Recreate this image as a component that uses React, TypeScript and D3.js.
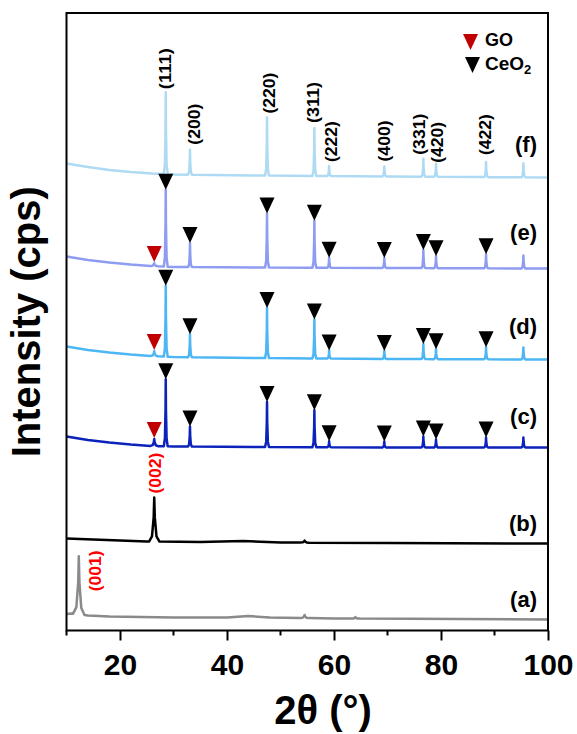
import React, { useRef, useEffect } from "react";
import * as d3 from "d3";

const WIDTH = 577;
const HEIGHT = 734;
const FONT = "'Liberation Sans', Arial, Helvetica, sans-serif";

// CeO2 reflections (2θ) and their Miller indices
const ceo2Peaks = [28.55, 33.08, 47.48, 56.33, 59.09, 69.4, 76.7, 79.07, 88.42, 95.4];
const ceo2Hkl = ["(111)", "(200)", "(220)", "(311)", "(222)", "(400)", "(331)", "(420)", "(422)"];
const goPeak002 = 26.4;
const goPeak001 = 12.3;

const sampleLabels = ["(a)", "(b)", "(c)", "(d)", "(e)", "(f)"];
const sampleColors = ["#8a8a8a", "#000000", "#0b22bb", "#4db6f4", "#8e9cf2", "#aedbf3"];
// vertical level of the (a)..(f) tags, same units as intensity
const sampleLabelLevel = [24, 100, 207, 297, 391, 479];

// background knots [2θ, intensity (offset, a.u.)]
const bgA = [[10, 16.5], [11, 17], [14, 15], [18, 14], [30, 13], [40, 13], [44, 14.5], [48, 13], [60, 12], [100, 11]];
const bgB = [[10, 92], [15, 91], [20, 90], [25, 89], [35, 88.5], [43, 89.5], [50, 88], [70, 87.5], [100, 87]];
const bgC = [[10, 194], [14, 190.5], [18, 188], [22, 186], [26, 184.5], [30, 184], [45, 183.5], [70, 183], [100, 183]];
const bgD = [[10, 284], [14, 280.5], [18, 278], [22, 276], [26, 274.5], [30, 273.5], [45, 272.5], [70, 271.5], [100, 271]];
const bgE = [[10, 374], [14, 370.5], [18, 368], [22, 366], [26, 364.5], [30, 363.5], [45, 363], [70, 362.5], [100, 362]];
const bgF = [[10, 467], [14, 463.5], [18, 460.5], [22, 458.5], [26, 457], [30, 456], [45, 455], [70, 454], [100, 453]];

// CeO2 peak heights above background, per sample (c)..(f)
const ceo2C = [67, 20, 45, 37, 6, 6, 11, 8, 10, 10];
const ceo2D = [71, 23, 50, 39, 8, 8, 15, 10, 12, 12];
const ceo2E = [77, 24, 54, 47, 10, 10, 18, 12, 14, 13];
const ceo2F = [82, 25, 58, 48, 10, 10, 18, 13, 15, 14];

// GO (002) height per sample (a)..(f); (001) only in (a)
const go002 = [0, 44, 7, 5, 3, 0];
const go001A = 58;

// small extra reflections [2θ, height]
const minorA = [[54.5, 3], [64, 1.5]];
const minorB = [[54.5, 2]];

// label placement tweaks for hkl labels [dx px, gap px]
const hklNudge = [[0, 3], [4, 5], [2, 4], [-1, 5], [2, 4], [0, 5], [-4, 4], [1, 1], [-1, 7]];

const PROFILE_OFF = [-2.8, -1.2, -0.3, 0, 0.3, 1.2, 2.8];
const PROFILE_FRAC = [0, 0.12, 0.55, 1, 0.55, 0.12, 0];

type Peak = { pos: number; h: number; w: number };

function buildTrace(bg: number[][], peaks: Peak[]) {
  const bgScale = d3.scaleLinear().domain(bg.map((d) => d[0])).range(bg.map((d) => d[1]));
  const live = peaks.filter((p) => p.h > 0);
  const pts: [number, number][] = bg
    .filter(([x]) => !live.some((p) => Math.abs(x - p.pos) < 2.8 * p.w))
    .map(([x, v]) => [x, v]);
  live.forEach((p) => {
    PROFILE_OFF.forEach((o, i) => {
      const x = p.pos + o * p.w;
      pts.push([x, bgScale(x) + PROFILE_FRAC[i] * p.h]);
    });
  });
  pts.sort((a, b) => a[0] - b[0]);
  return { pts, bgScale };
}

const App = () => {
  const svgRef = useRef<SVGSVGElement>(null);

  useEffect(() => {
    const svg = d3.select(svgRef.current);
    svg.selectAll("*").remove();

    const left = 66.5, right = 548, top = 13, bottom = 630.5;
    const x = d3.scaleLinear().domain([10, 100]).range([left, right]);
    const y = d3.scaleLinear().domain([0, bottom - top]).range([bottom, top]);

    const ceo2Sets = [null, null, ceo2C, ceo2D, ceo2E, ceo2F];
    const bgs = [bgA, bgB, bgC, bgD, bgE, bgF];

    const traces = bgs.map((bg, i) => {
      const peaks: Peak[] = [];
      if (i === 0) {
        peaks.push({ pos: goPeak001, h: go001A, w: 0.38 });
        minorA.forEach(([p, h]) => peaks.push({ pos: p, h, w: 0.3 }));
      }
      if (i === 1) {
        peaks.push({ pos: goPeak002, h: go002[1], w: 0.35 });
        minorB.forEach(([p, h]) => peaks.push({ pos: p, h, w: 0.3 }));
      }
      if (i >= 2) {
        peaks.push({ pos: goPeak002, h: go002[i], w: 0.25 });
        const hs = ceo2Sets[i] as number[];
        ceo2Peaks.forEach((p, k) => peaks.push({ pos: p, h: hs[k], w: 0.13 }));
      }
      return buildTrace(bg, peaks);
    });

    const line = d3
      .line<[number, number]>()
      .x((d) => x(d[0]))
      .y((d) => y(d[1]));

    // traces
    traces.forEach((t, i) => {
      svg
        .append("path")
        .attr("d", line(t.pts))
        .attr("fill", "none")
        .attr("stroke", sampleColors[i])
        .attr("stroke-width", 2.5)
        .attr("stroke-linejoin", "round");
    });

    const tri = (cx: number, tipY: number) =>
      `M${cx - 7.5},${tipY - 16}L${cx + 7.5},${tipY - 16}L${cx},${tipY}Z`;

    // markers on (c), (d), (e)
    [2, 3, 4].forEach((i) => {
      const t = traces[i];
      const hs = ceo2Sets[i] as number[];
      ceo2Peaks.slice(0, 9).forEach((p, k) => {
        svg
          .append("path")
          .attr("d", tri(x(p), y(t.bgScale(p) + hs[k])))
          .attr("fill", "#000");
      });
      svg
        .append("path")
        .attr("d", tri(x(goPeak002), y(t.bgScale(goPeak002) + go002[i]) - 1))
        .attr("fill", "#c00000");
    });

    // hkl labels over (f)
    const tf = traces[5];
    ceo2Hkl.forEach((lab, k) => {
      const p = ceo2Peaks[k];
      const px = x(p) + hklNudge[k][0];
      const py = y(tf.bgScale(p) + ceo2F[k]) - hklNudge[k][1];
      svg
        .append("text")
        .attr("transform", `translate(${px},${py}) rotate(-90)`)
        .attr("dy", "0.35em")
        .attr("font-family", FONT)
        .attr("font-weight", "bold")
        .attr("font-size", 16)
        .attr("textLength", 41)
        .attr("lengthAdjust", "spacingAndGlyphs")
        .attr("fill", "#000")
        .text(lab);
    });

    // GO labels
    const goLabels = [
      { text: "(002)", px: x(goPeak002) + 1, py: y(traces[1].bgScale(goPeak002) + go002[1]) - 4 },
      { text: "(001)", px: x(goPeak001) + 17, py: y(traces[0].bgScale(goPeak001) + go001A) + 35 },
    ];
    goLabels.forEach((g) => {
      svg
        .append("text")
        .attr("transform", `translate(${g.px},${g.py}) rotate(-90)`)
        .attr("dy", "0.35em")
        .attr("font-family", FONT)
        .attr("font-weight", "bold")
        .attr("font-size", 16)
        .attr("textLength", 41)
        .attr("lengthAdjust", "spacingAndGlyphs")
        .attr("fill", "#ff0000")
        .text(g.text);
    });

    // sample tags
    sampleLabels.forEach((lab, i) => {
      svg
        .append("text")
        .attr("x", 537)
        .attr("y", y(sampleLabelLevel[i]))
        .attr("text-anchor", "end")
        .attr("font-family", FONT)
        .attr("font-weight", "bold")
        .attr("font-size", 22)
        .text(lab);
    });

    // legend
    svg.append("path").attr("d", tri(470.5, 50)).attr("fill", "#c00000");
    svg.append("path").attr("d", tri(472.5, 73)).attr("fill", "#000");
    svg
      .append("text")
      .attr("x", 485)
      .attr("y", 46)
      .attr("font-family", FONT)
      .attr("font-weight", "bold")
      .attr("font-size", 18)
      .text("GO");
    const ce = svg
      .append("text")
      .attr("x", 485)
      .attr("y", 70)
      .attr("font-family", FONT)
      .attr("font-weight", "bold")
      .attr("font-size", 19)
      .text("CeO");
    ce.append("tspan").attr("font-size", 13).attr("dy", 4).text("2");

    // frame
    svg
      .append("rect")
      .attr("x", left)
      .attr("y", top)
      .attr("width", right - left)
      .attr("height", bottom - top)
      .attr("fill", "none")
      .attr("stroke", "#000")
      .attr("stroke-width", 2);

    // x axis
    const axis = svg.append("g").attr("transform", `translate(0,${bottom})`);
    axis
      .call(
        d3
          .axisBottom(x)
          .tickValues([20, 40, 60, 80, 100])
          .tickSize(10)
          .tickPadding(13)
          .tickFormat(d3.format("d"))
      )
      .call((g) => g.select(".domain").remove());
    axis
      .selectAll(".tick line")
      .attr("stroke", "#000")
      .attr("stroke-width", 2);
    axis
      .selectAll("text")
      .attr("font-family", FONT)
      .attr("font-weight", "bold")
      .attr("font-size", 30)
      .attr("fill", "#000");
    axis
      .selectAll(".minor")
      .data([10, 30, 50, 70, 90])
      .enter()
      .append("line")
      .attr("x1", (d) => x(d))
      .attr("x2", (d) => x(d))
      .attr("y1", 0)
      .attr("y2", 5)
      .attr("stroke", "#000")
      .attr("stroke-width", 2);

    // axis titles
    svg
      .append("text")
      .attr("x", 323)
      .attr("y", 724)
      .attr("text-anchor", "middle")
      .attr("font-family", FONT)
      .attr("font-weight", "bold")
      .attr("font-size", 40)
      .text("2θ (°)");

    svg
      .append("text")
      .attr("transform", `translate(40,${(top + bottom) / 2}) rotate(-90)`)
      .attr("text-anchor", "middle")
      .attr("font-family", FONT)
      .attr("font-weight", "bold")
      .attr("font-size", 40)
      .text("Intensity (cps)");
  }, []);

  return (
    <svg
      ref={svgRef}
      width={WIDTH}
      height={HEIGHT}
      style={{ position: "absolute", left: 0, top: 0, background: "#fff" }}
    />
  );
};

export default App;
